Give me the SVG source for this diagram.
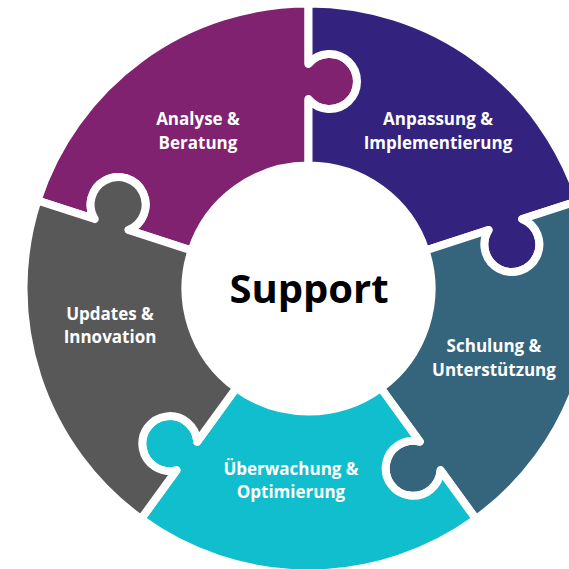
<svg xmlns="http://www.w3.org/2000/svg" width="569" height="569" viewBox="0 0 569 569">
<style>
.piece{stroke:#ffffff;stroke-width:8;stroke-linejoin:round}
.lbl{font-family:"Open Sans","Noto Sans","Liberation Sans",sans-serif;font-weight:700;font-size:17px;fill:#ffffff;text-anchor:middle}
.center{font-family:"Open Sans","Noto Sans","Liberation Sans",sans-serif;font-weight:700;font-size:40px;fill:#000000;text-anchor:middle}
</style>
<rect width="569" height="569" fill="#ffffff"/>
<g id="connectors"></g>
<g id="analyse">
<path class="piece" fill="#80226F" d="M37.45,200.43 A285,285 0 0 1 308.5,3.5 L308.5,63.75 A27.5,27.5 0 1 1 308.5,99.25 L308.5,165.5 A123,123 0 0 0 191.52,250.49 L128.51,230.02 A27.5,27.5 0 1 0 94.75,219.05 Z"/>
<text class="lbl" x="198" y="125">Analyse &amp;</text>
<text class="lbl" x="198" y="148.5">Beratung</text>
</g>
<g id="anpassung">
<path class="piece" fill="#33237F" d="M308.5,3.5 A285,285 0 0 1 579.55,200.43 L522.25,219.05 A27.5,27.5 0 1 1 488.49,230.02 L425.48,250.49 A123,123 0 0 0 308.5,165.5 L308.5,99.25 A27.5,27.5 0 1 0 308.5,63.75 Z"/>
<text class="lbl" x="438" y="125">Anpassung &amp;</text>
<text class="lbl" x="438" y="148.5">Implementierung</text>
</g>
<g id="schulung">
<path class="piece" fill="#35657D" d="M579.55,200.43 A285,285 0 0 1 476.02,519.07 L440.61,470.33 A27.5,27.5 0 1 1 419.74,441.61 L380.8,388.01 A123,123 0 0 0 425.48,250.49 L488.49,230.02 A27.5,27.5 0 1 0 522.25,219.05 Z"/>
<text class="lbl" x="494" y="352">Schulung &amp;</text>
<text class="lbl" x="494" y="375.5">Unterstützung</text>
</g>
<g id="ueberwachung">
<path class="piece" fill="#10BECE" d="M476.02,519.07 A285,285 0 0 1 140.98,519.07 L176.4,470.33 A27.5,27.5 0 1 1 197.26,441.61 L236.2,388.01 A123,123 0 0 0 380.8,388.01 L419.74,441.61 A27.5,27.5 0 1 0 440.61,470.33 Z"/>
<text class="lbl" x="291" y="474.5">Überwachung &amp;</text>
<text class="lbl" x="291" y="498">Optimierung</text>
</g>
<g id="updates">
<path class="piece" fill="#585858" d="M140.98,519.07 A285,285 0 0 1 37.45,200.43 L94.75,219.05 A27.5,27.5 0 1 1 128.51,230.02 L191.52,250.49 A123,123 0 0 0 236.2,388.01 L197.26,441.61 A27.5,27.5 0 1 0 176.4,470.33 Z"/>
<text class="lbl" x="110" y="319.5">Updates &amp;</text>
<text class="lbl" x="110" y="343">Innovation</text>
</g>
<g id="support">
<circle cx="308.5" cy="288.5" r="123" fill="#ffffff"/>
<text class="center" x="309" y="303">Support</text>
</g>
</svg>
